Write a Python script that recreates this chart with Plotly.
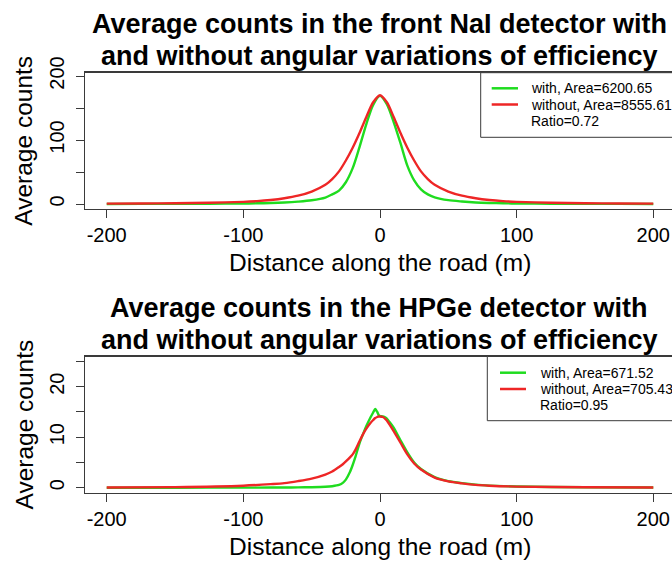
import plotly.graph_objects as go

# ---------------- data ----------------
x_top = [-200, -175, -150, -125, -100, -90, -80, -70, -60, -50, -40, -35, -30, -25, -20, -15, -10, -5, 0,
         5, 10, 15, 20, 25, 30, 35, 40, 50, 60, 70, 80, 90, 100, 125, 150, 175, 200]
nai_with = [0.1, 0.15, 0.25, 0.45, 0.8, 1.1, 1.5, 2.3, 3.7, 5.8, 10, 15, 21, 34, 56, 89, 125, 155, 169,
            156, 128, 95, 60, 37, 23, 15, 10.5, 6, 3.9, 2.4, 1.6, 1.1, 0.8, 0.45, 0.25, 0.15, 0.1]
nai_without = [0.6, 0.8, 1.2, 2.0, 3.4, 4.5, 6.3, 9.0, 13, 19.5, 30, 39, 51, 68, 88, 111, 136, 159, 170,
               159, 136, 111, 88, 68, 51, 39, 30, 19.5, 13, 9.0, 6.3, 4.5, 3.4, 2.0, 1.2, 0.8, 0.6]

x_bot = [-200, -150, -100, -80, -70, -60, -50, -40, -35, -30, -27, -25, -22, -20, -18, -15, -12, -10, -7, -5,
         -3.5, -2, -1, 0, 2, 4, 5, 7, 10, 15, 20, 25, 30, 40, 50, 60, 70, 80, 100, 150, 200]
hpge_with = [0, 0, 0.02, 0.03, 0.04, 0.06, 0.1, 0.18, 0.3, 0.55, 1.0, 1.6, 3.1, 4.5, 6.1, 8.8, 10.9, 12.2, 13.9, 14.9,
             15.6, 15.0, 14.4, 14.2, 14.1, 13.9, 13.7, 13.0, 11.9, 9.4, 7.0, 5.0, 3.7, 2.1, 1.3, 0.9, 0.6, 0.42, 0.23, 0.08, 0.04]
hpge_without = [0.05, 0.12, 0.4, 0.7, 0.9, 1.3, 1.8, 2.6, 3.2, 4.1, 4.7, 5.2, 6.0, 6.6, 7.5, 9.2, 10.8, 11.7, 12.8, 13.4,
                13.8, 14.0, 14.1, 14.1, 14.0, 13.6, 13.3, 12.5, 11.2, 8.9, 6.6, 4.8, 3.6, 2.0, 1.25, 0.85, 0.55, 0.4, 0.22, 0.08, 0.04]

x_ticks = [-200, -100, 0, 100, 200]
y_ticks_top = [0, 50, 100, 150, 200]
y_labels_top = ["0", "", "100", "", "200"]
y_ticks_bot = [0, 5, 10, 15, 20, 25]
y_labels_bot = ["0", "", "10", "", "20", ""]

titles_top = ["Average counts in the front NaI detector with",
              "and without angular variations of efficiency"]
titles_bot = ["Average counts in the HPGe detector with",
              "and without angular variations of efficiency"]
legend_top = ["with, Area=6200.65", "without, Area=8555.61", "Ratio=0.72"]
legend_bot = ["with, Area=671.52", "without, Area=705.43", "Ratio=0.95"]
x_title = "Distance along the road (m)"
y_title = "Average counts"

# ---------------- styling ----------------
W, H = 672, 561
FONT = "Liberation Sans, Arial, Helvetica, sans-serif"
GREEN = "#1fdc1f"
RED = "#ee2626"
AXC = "#3a3a3a"


def px(x):
    return x / W


def py(y):
    return 1 - y / H


fig = go.Figure()
fig.add_trace(go.Scatter(x=x_top, y=nai_with, mode="lines", line=dict(color=GREEN, width=2.4, shape="spline", smoothing=0.8),
                         xaxis="x", yaxis="y", showlegend=False))
fig.add_trace(go.Scatter(x=x_top, y=nai_without, mode="lines", line=dict(color=RED, width=2.4, shape="spline", smoothing=0.8),
                         xaxis="x", yaxis="y", showlegend=False))
fig.add_trace(go.Scatter(x=x_bot, y=hpge_with, mode="lines", line=dict(color=GREEN, width=2.4, shape="spline", smoothing=0.6),
                         xaxis="x2", yaxis="y2", showlegend=False))
fig.add_trace(go.Scatter(x=x_bot, y=hpge_without, mode="lines", line=dict(color=RED, width=2.4, shape="spline", smoothing=0.8),
                         xaxis="x2", yaxis="y2", showlegend=False))

xdom = [px(85), 1]
xrange = [-215.9, 213.7]
xaxis_common = dict(domain=xdom, range=xrange, tickvals=x_ticks, ticktext=[str(v) for v in x_ticks],
                    showline=True, mirror=True, linecolor=AXC, linewidth=1.3, ticks="outside", ticklen=8,
                    tickcolor=AXC, tickwidth=1, showgrid=False, zeroline=False, automargin=False,
                    tickfont=dict(family=FONT, size=20, color="black"))
yaxis_common = dict(showline=True, mirror=False, linecolor=AXC, linewidth=1.3, ticks="outside", ticklen=8,
                    tickcolor=AXC, tickwidth=1, showgrid=False, zeroline=False, tickangle=-90, automargin=False,
                    ticklabelstandoff=4,
                    tickfont=dict(family=FONT, size=20, color="black"))

fig.update_layout(
    template="none",
    width=W, height=H, margin=dict(l=0, r=0, t=0, b=0, pad=0), autosize=False,
    paper_bgcolor="white", plot_bgcolor="white", showlegend=False,
    xaxis=dict(**xaxis_common, anchor="y"),
    yaxis=dict(**yaxis_common, domain=[py(208.7), py(72.7)], range=[-7.34, 205.2], anchor="x",
               tickvals=y_ticks_top, ticktext=y_labels_top),
    xaxis2=dict(**xaxis_common, anchor="y2"),
    yaxis2=dict(**yaxis_common, domain=[py(492.5), py(356.5)], range=[-0.95, 25.98], anchor="x2",
                tickvals=y_ticks_bot, ticktext=y_labels_bot),
)

annotations = []
shapes = []


def panel_text(titles, top, bottom, legend_texts, leg):
    # titles
    for i, t in enumerate(titles):
        annotations.append(dict(x=px(379), y=py(top - 49 + 32 * i), xref="paper", yref="paper",
                                text="<b>%s</b>" % t, showarrow=False, xanchor="center", yanchor="middle",
                                font=dict(family=FONT, size=27, color="black")))
    # x title
    annotations.append(dict(x=px(380), y=py(bottom + 54), xref="paper", yref="paper", text=x_title,
                            showarrow=False, xanchor="center", yanchor="middle",
                            font=dict(family=FONT, size=24.5, color="black")))
    # y title
    annotations.append(dict(x=px(24), y=py((top + bottom) / 2), xref="paper", yref="paper", text=y_title,
                            showarrow=False, xanchor="center", yanchor="middle", textangle=-90,
                            font=dict(family=FONT, size=24.5, color="black")))
    # legend box
    lx0, ly0, ly1, line_x0, line_x1, text_x, row0, step = leg
    shapes.append(dict(type="rect", xref="paper", yref="paper", x0=px(lx0), x1=1.05, y0=py(ly1), y1=py(ly0),
                       line=dict(color=AXC, width=1), fillcolor="white", layer="above"))
    for i, (t, c) in enumerate(zip(legend_texts, [GREEN, RED, None])):
        yy = row0 + step * i
        if c is not None:
            shapes.append(dict(type="line", xref="paper", yref="paper", x0=px(line_x0), x1=px(line_x1),
                               y0=py(yy), y1=py(yy), line=dict(color=c, width=2.5), layer="above"))
        annotations.append(dict(x=px(text_x), y=py(yy), xref="paper", yref="paper", text=t, showarrow=False,
                                xanchor="left", yanchor="middle", font=dict(family=FONT, size=14, color="black")))


panel_text(titles_top, 72.7, 208.7, legend_top, (480.7, 72.7, 137.3, 491.7, 518, 529, 88.3, 16.2))
panel_text(titles_bot, 356.5, 492.5, legend_bot, (487.3, 356.5, 420.7, 500, 526, 538.3, 372.7, 16.3))

fig.update_layout(annotations=annotations, shapes=shapes)

# remove the default page margin so the 672x561 figure fills the window exactly
page_fix = ("document.body.style.margin='0';document.body.style.padding='0';"
            "document.body.style.overflow='hidden';document.documentElement.style.overflow='hidden';")
fig.write_html("out.html", post_script=page_fix, config={"displayModeBar": False, "staticPlot": True})
